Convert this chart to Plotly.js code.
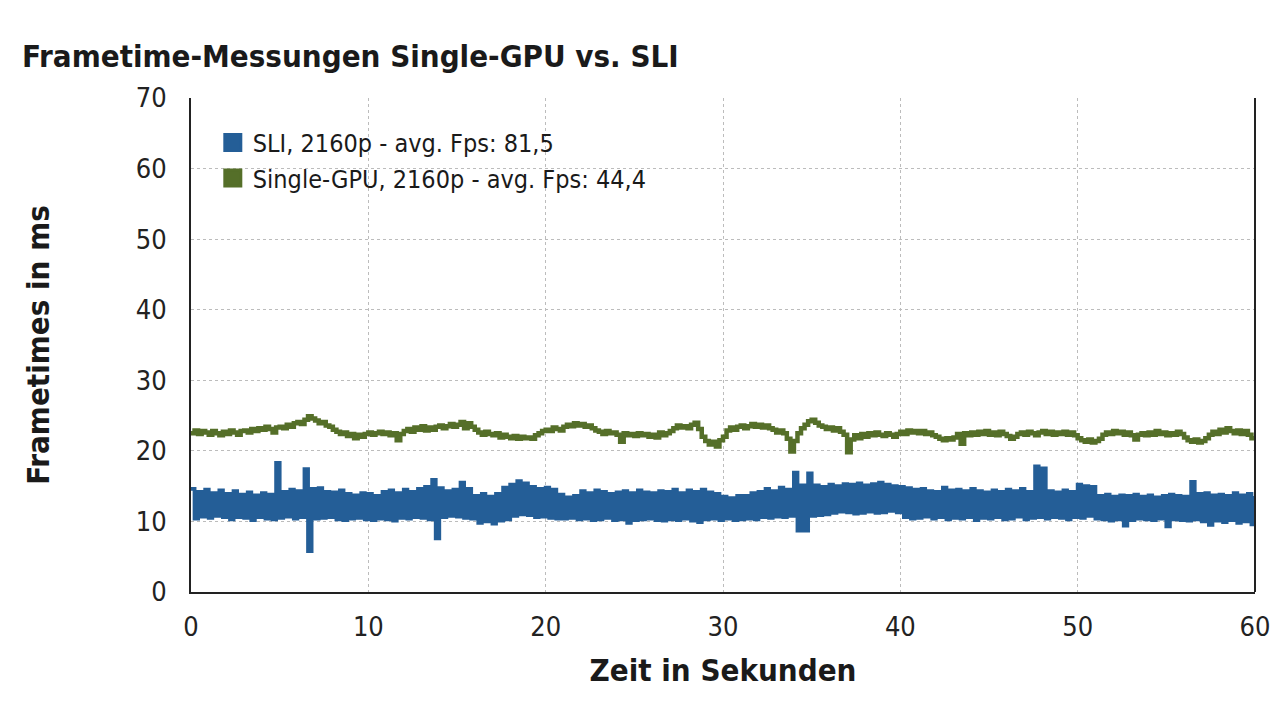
<!DOCTYPE html>
<html><head><meta charset="utf-8">
<script src="https://cdn.plot.ly/plotly-3.0.1.min.js"></script>
<style>html,body{margin:0;padding:0;background:#fff}#chart{width:1280px;height:719px}</style>
</head><body><div id="chart"></div>
<script>
// seconds between samples
const sampleStep = 0.2;

// SLI frametimes in ms (5 samples per second)
const sliFrametimes = [
14.6,10.4,14.2,10.7,14.5, 10.5,14.0,10.8,14.4,10.6, 13.9,10.3,14.3,10.6,13.8, 10.5,14.1,10.2,13.7,10.6,
14.0,10.4,13.8,10.3,18.3, 10.5,14.2,10.7,14.5,10.4, 14.3,10.6,17.4,5.8,14.6, 10.4,14.7,10.5,14.2,10.6,
14.1,10.3,14.4,10.2,13.9, 10.4,13.7,10.5,14.0,10.3, 13.9,10.2,13.6,10.4,14.2, 10.3,14.4,10.1,14.0,10.5,
14.5,10.4,14.2,10.6,14.6, 10.5,14.9,10.3,15.9,7.6, 14.7,10.6,14.3,10.8,14.5, 10.7,15.5,10.5,14.6,10.4,
13.6,9.8,13.9,10.0,13.5, 9.7,13.9,10.1,14.8,10.3, 15.2,10.8,15.7,11.0,15.4, 10.9,14.9,10.6,14.6,10.7,
14.8,10.5,14.5,10.4,13.8, 10.4,13.4,10.5,13.6,10.3, 14.3,10.4,14.0,10.2,14.4, 10.3,14.2,10.5,13.9,10.2,
14.1,10.3,14.3,9.8,14.0, 10.2,14.4,10.3,14.1,10.4, 14.0,10.2,14.3,10.1,14.2, 10.3,14.5,10.2,14.0,10.4,
14.4,10.1,14.2,9.9,14.5, 10.3,14.1,10.4,13.9,10.2, 13.5,10.4,13.3,10.2,13.6, 10.3,13.6,10.4,14.0,10.3,
14.2,10.6,14.6,10.5,14.3, 10.7,14.8,10.6,14.5,10.8, 16.9,8.7,15.1,8.7,16.8, 10.8,15.1,10.9,14.9,11.0,
15.2,11.2,15.0,11.4,15.3, 11.3,15.2,11.1,15.4,11.2, 15.1,11.4,15.3,11.2,15.5, 11.3,15.2,11.5,15.0,11.3,
14.9,10.6,14.7,10.4,14.5, 10.5,14.6,10.7,14.3,10.4, 14.2,10.6,14.8,10.3,14.4, 10.5,14.5,10.4,14.3,10.6,
14.6,10.2,14.3,10.5,14.1, 10.4,14.4,10.6,14.2,10.3, 14.5,10.4,14.3,10.7,14.6, 10.3,14.2,10.5,17.8,10.6,
17.5,10.4,14.3,10.6,14.1, 10.5,14.4,10.3,14.2,10.6, 15.2,10.5,15.0,10.8,14.9, 10.4,13.6,10.3,13.8,10.1,
13.5,10.3,13.7,9.4,13.6, 10.2,13.8,10.4,13.5,10.3, 13.7,10.2,13.4,10.4,13.6, 9.3,13.8,10.3,13.6,10.2,
13.5,10.1,15.6,10.3,13.9, 10.0,14.0,9.5,13.7,10.1, 13.8,9.9,13.6,10.2,14.0, 9.8,13.7,10.0,13.9,9.6,
13.6
];

// Single-GPU frametimes in ms (5 samples per second)
const singleFrametimes = [
22.5,22.9,22.4,22.8,22.6, 22.3,22.8,22.5,22.2,22.7, 22.4,22.9,22.6,22.3,22.8, 22.9,22.6,23.1,22.8,23.2,
23.0,23.4,23.1,22.6,23.3, 23.4,23.2,23.7,23.4,23.9, 24.1,23.8,24.4,24.9,24.6, 24.3,23.9,24.1,23.6,23.4,
23.0,22.7,22.4,22.6,22.1, 22.4,21.8,22.3,22.0,22.4, 22.6,22.3,22.5,22.7,22.4, 22.6,22.2,22.5,21.5,22.4,
22.8,23.1,22.7,23.3,23.0, 23.5,22.9,23.3,23.0,23.4, 23.6,23.2,23.5,23.8,23.4, 23.7,24.1,23.2,23.9,23.4,
23.0,22.6,22.3,22.7,22.4, 22.2,22.5,21.9,22.3,22.0, 21.8,22.1,21.7,22.0,21.8, 21.9,21.7,22.2,22.5,22.8,
23.0,22.8,23.3,23.1,22.9, 23.4,23.7,23.5,23.9,23.6, 23.8,23.4,23.6,23.2,22.9, 22.7,22.4,22.8,22.5,22.6,
22.3,21.3,22.5,22.2,22.4, 22.1,22.5,22.2,22.4,22.0, 22.3,21.9,22.6,22.2,22.5, 22.8,23.2,23.6,23.3,23.5,
23.2,23.7,24.0,23.1,22.0, 21.4,20.9,21.3,20.6,21.5, 22.0,22.9,23.3,23.0,23.4, 23.6,23.2,23.5,23.8,23.4,
23.7,23.3,23.6,23.2,23.0, 22.6,22.9,22.5,21.7,19.9, 21.4,22.5,23.2,23.7,24.2, 24.4,24.0,23.6,23.4,23.1,
23.3,22.9,23.2,22.7,22.3, 19.8,21.6,22.2,21.8,22.4, 22.0,22.5,22.2,22.6,22.3, 22.1,22.5,22.3,22.0,22.4,
22.7,22.4,22.9,22.6,22.8, 22.5,22.8,22.4,22.6,22.2, 22.0,21.7,21.5,21.8,21.6, 21.9,22.4,21.0,22.5,22.2,
22.6,22.3,22.7,22.4,22.8, 22.3,22.6,22.2,22.7,22.4, 22.1,21.7,22.0,22.4,22.6, 22.3,22.7,22.5,22.2,22.6,
22.8,22.4,22.7,22.3,22.6, 22.4,22.7,22.3,22.6,22.2, 21.8,21.5,21.3,21.6,21.2, 21.4,21.7,22.3,22.6,22.4,
22.8,22.5,22.7,22.3,22.6, 22.2,21.6,22.3,22.5,22.2, 22.6,22.3,22.8,22.4,22.6, 22.2,22.5,22.3,22.7,22.4,
21.9,21.5,21.3,21.6,21.2, 21.4,21.8,22.3,22.7,22.4, 23.0,22.6,23.2,22.8,22.5, 22.9,22.4,22.8,22.3,21.8,
21.5
];

const seriesNames = ['SLI, 2160p - avg. Fps: 81,5', 'Single-GPU, 2160p - avg. Fps: 44,4'];
const seriesColors = ['#245e97', '#556f29'];
const xTickValues = [0, 10, 20, 30, 40, 50, 60];
const yTickValues = [0, 10, 20, 30, 40, 50, 60, 70];
const chartTitle = 'Frametime-Messungen Single-GPU vs. SLI';
const xTitle = 'Zeit in Sekunden';
const yTitle = 'Frametimes in ms';

const times = sliFrametimes.map((_, i) => +(i * sampleStep).toFixed(1));
const FONT = "'Liberation Sans Narrow','Arial Narrow','DejaVu Sans Condensed',sans-serif";

const traces = [
  {x: times, y: singleFrametimes, type: 'scatter', mode: 'lines', showlegend: false,
   line: {color: seriesColors[1], width: 4.5, shape: 'hv'}, hoverinfo: 'skip'},
  {x: times, y: sliFrametimes, type: 'scatter', mode: 'lines', showlegend: false,
   line: {color: seriesColors[0], width: 3.8, shape: 'hv'}, hoverinfo: 'skip'},
  {x: [null], y: [null], type: 'scatter', mode: 'markers', name: seriesNames[0],
   marker: {symbol: 'square', size: 16, color: seriesColors[0], line: {color: seriesColors[0], width: 3}}},
  {x: [null], y: [null], type: 'scatter', mode: 'markers', name: seriesNames[1],
   marker: {symbol: 'square', size: 16, color: seriesColors[1], line: {color: seriesColors[1], width: 3}}}
];

const layout = {
  width: 1280, height: 719,
  paper_bgcolor: '#fff', plot_bgcolor: '#fff',
  margin: {l: 191, r: 25, t: 98, b: 127},
  font: {family: FONT, color: '#222'},
  title: {text: chartTitle, font: {family: FONT, size: 31, weight: 'bold', color: '#1a1a1a'},
          x: 22 / 1280, xanchor: 'left', xref: 'container', y: 1 - 45 / 719, yanchor: 'top', yref: 'container'},
  xaxis: {range: [0, 60], tickvals: xTickValues, ticktext: xTickValues.map(String),
          showgrid: true, gridcolor: '#bcbcbc', griddash: 'dot', gridwidth: 1,
          showline: true, linecolor: '#222', linewidth: 2, zeroline: false, ticks: '',
          ticklabelstandoff: 10, tickfont: {size: 27, family: FONT, color: '#222'},
          title: {text: xTitle, font: {size: 31, weight: 'bold', family: FONT, color: '#1a1a1a'}, standoff: 18},
          fixedrange: true},
  yaxis: {range: [0, 70], tickvals: yTickValues, ticktext: yTickValues.map(String),
          showgrid: true, gridcolor: '#bcbcbc', griddash: 'dot', gridwidth: 1,
          showline: true, linecolor: '#222', linewidth: 2, zeroline: false, ticks: '',
          ticklabelstandoff: 17, tickfont: {size: 27, family: FONT, color: '#222'},
          title: {text: yTitle, font: {size: 31, weight: 'bold', family: FONT, color: '#1a1a1a'}, standoff: 77},
          fixedrange: true},
  legend: {x: 0.0205, y: 0.956, xanchor: 'left', yanchor: 'top', bgcolor: 'rgba(0,0,0,0)',
           font: {size: 25, family: FONT, color: '#1a1a1a'}, tracegroupgap: 0, itemwidth: 30},
  shapes: [{type: 'line', xref: 'paper', yref: 'paper', x0: 1, x1: 1, y0: 0, y1: 1,
            line: {color: '#222', width: 2}}]
};

Plotly.newPlot('chart', traces, layout, {displayModeBar: false, staticPlot: true});
</script></body></html>
